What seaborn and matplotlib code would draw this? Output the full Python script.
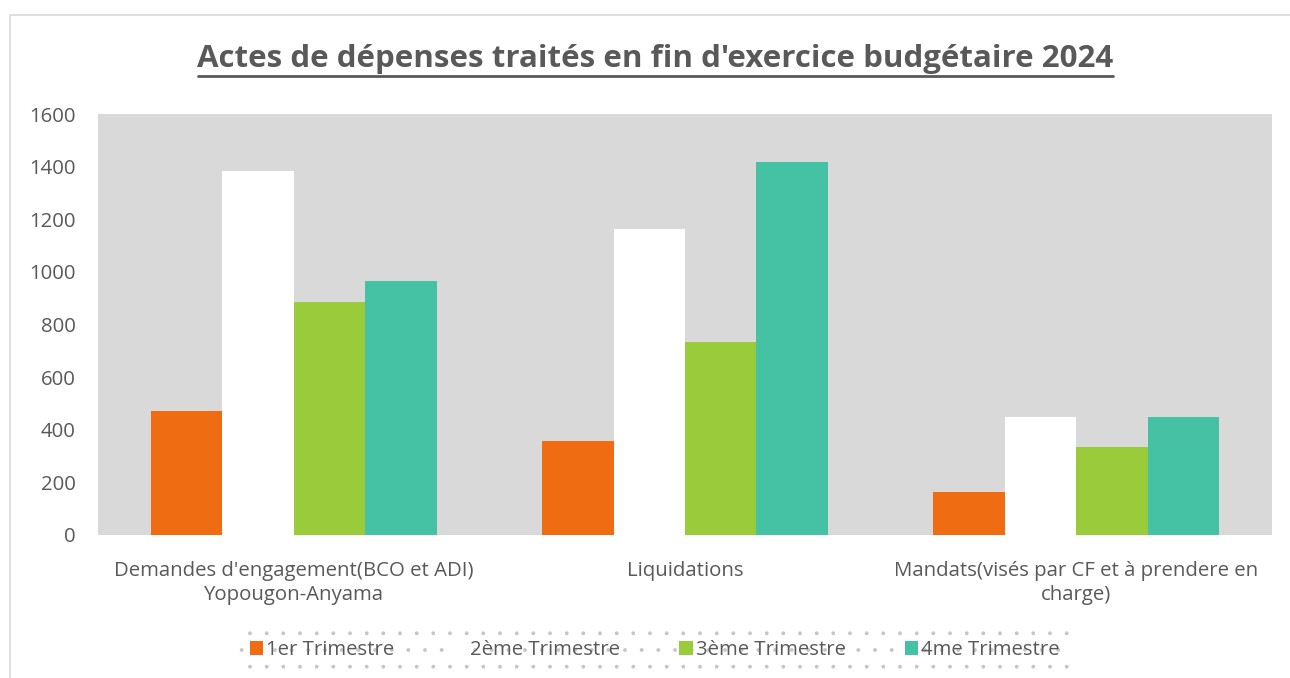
import pandas as pd
import matplotlib.pyplot as plt
import seaborn as sns
from matplotlib.patches import Rectangle

categories = ["Demandes d'engagement(BCO et ADI)\nYopougon-Anyama",
              "Liquidations",
              "Mandats(visés par CF et à prendere en\ncharge)"]
trimestres = ["1er Trimestre", "2ème Trimestre", "3ème Trimestre", "4me Trimestre"]
t1 = [471, 358, 163]
t2 = [1385, 1163, 450]
t3 = [886, 734, 335]
t4 = [966, 1418, 450]
colors = ["#EF6C12", "#FFFFFF", "#9ACB3A", "#45C2A4"]

rows = []
for name, vals in zip(trimestres, [t1, t2, t3, t4]):
    for cat, v in zip(categories, vals):
        rows.append({"cat": cat, "trim": name, "val": v})
df = pd.DataFrame(rows)

sns.set_theme(style="white")
plt.rcParams['font.family'] = ['Open Sans', 'DejaVu Sans']
plt.rcParams['hatch.linewidth'] = 0.3
txt = "#595959"

fig = plt.figure(figsize=(12.9, 6.78), dpi=100)
ax = fig.add_axes([98 / 1290, 1 - 535 / 678, (1272 - 98) / 1290, (535 - 114) / 678])
ax.set_facecolor("#D9D9D9")

sns.barplot(data=df, x="cat", y="val", hue="trim", hue_order=trimestres,
            palette=colors, width=0.73, linewidth=0, saturation=1, ax=ax)

ax.set_ylim(0, 1600)
ax.set_yticks(range(0, 1601, 200))
ax.set_xlim(-0.5, 2.5)
ax.set_xlabel("")
ax.set_ylabel("")
for s in ax.spines.values():
    s.set_visible(False)
ax.tick_params(axis="both", length=0, colors=txt, labelsize=14.7)
ax.tick_params(axis="y", pad=16)
ax.tick_params(axis="x", pad=19)
for lab in ax.get_xticklabels():
    lab.set_linespacing(1.25)

fig.text(0.508, 1 - 59 / 678, "Actes de dépenses traités en fin d'exercice budgétaire 2024",
         ha="center", va="center", fontsize=22.5, fontweight="bold", color=txt)
# underline
fig.add_artist(plt.Line2D([198 / 1290, 1113 / 1290], [1 - 76 / 678, 1 - 76 / 678],
                          color=txt, lw=2))

# chart border
fig.add_artist(Rectangle((10 / 1290, -0.01), 1.0, 1 - 15 / 678 + 0.01,
                         transform=fig.transFigure, fill=False,
                         edgecolor="#D9D9D9", lw=1.2))

ax.legend_.remove()
handles, labels = ax.get_legend_handles_labels()
leg = fig.legend(handles, labels, loc="center", ncol=4,
                 bbox_to_anchor=(655 / 1290, 1 - 650 / 678),
                 frameon=True, fontsize=14.7, handlelength=0.65, handleheight=0.65,
                 handletextpad=0.15, columnspacing=2.9, borderpad=0.55,
                 labelcolor=txt)
frame = leg.get_frame()
frame.set_facecolor("none")
frame.set_edgecolor("#B8B8B8")
frame.set_hatch(".")
frame.set_linewidth(0)
frame.set_boxstyle("square", pad=0)

fig.savefig("out.png", dpi=100)
